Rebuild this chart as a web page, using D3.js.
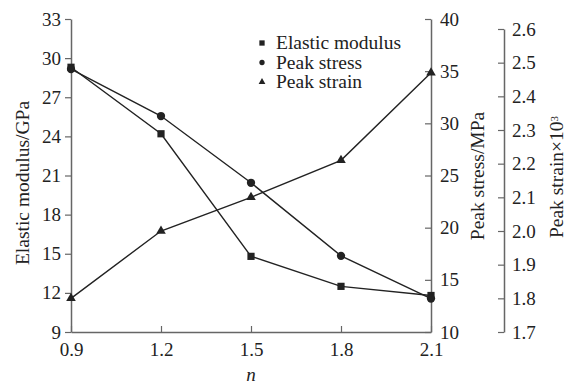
<!DOCTYPE html>
<html>
<head>
<meta charset="utf-8">
<script src="https://cdn.jsdelivr.net/npm/d3@7/dist/d3.min.js"></script>
<style>
  html, body { margin: 0; padding: 0; background: #fff; }
  svg { display: block; }
  text { font-family: "Liberation Serif", Tinos, "Noto Serif", "DejaVu Serif", "Times New Roman", Times, serif; fill: #222; }
</style>
</head>
<body>
<svg id="chart" width="569" height="385"></svg>
<script>
// n values and the three measured series
const nValues = [0.9, 1.2, 1.5, 1.8, 2.1];
const elasticModulus = [29.3, 24.2, 14.8, 12.5, 11.8];   // GPa
const peakStress = [35.2, 30.7, 24.3, 17.3, 13.2];       // MPa
const peakStrain = [1.80, 2.00, 2.10, 2.21, 2.47];       // ×10³

const xTicks = [0.9, 1.2, 1.5, 1.8, 2.1];
const modulusTicks = [9, 12, 15, 18, 21, 24, 27, 30, 33];
const stressTicks = [10, 15, 20, 25, 30, 35, 40];
const strainTicks = [1.7, 1.8, 1.9, 2.0, 2.1, 2.2, 2.3, 2.4, 2.5, 2.6];

const serif = '"Liberation Serif", Tinos, "Noto Serif", "DejaVu Serif", "Times New Roman", Times, serif';
const svg = d3.select("#chart");
const axisColor = "#666";
const lineColor = "#222";

const x = d3.scaleLinear().domain([0.9, 2.1]).range([71, 431]);
const yMod = d3.scaleLinear().domain([9, 33]).range([332, 19]);
const yStress = d3.scaleLinear().domain([10, 40]).range([332, 19]);
const yStrain = d3.scaleLinear().domain([1.7, 2.6]).range([332, 29]);

function styleAxis(g, size) {
  g.attr("font-family", serif).attr("font-size", size);
  g.select(".domain").attr("stroke", axisColor).attr("stroke-width", 1.5);
  g.selectAll(".tick line").attr("stroke", axisColor).attr("stroke-width", 1.2);
  g.selectAll(".tick text")
    .attr("fill", "#222")
    .style("font-family", serif)
    .style("font-size", size + "px");
}

// x axis, ticks pointing into the plot
svg.append("g")
  .attr("transform", "translate(0,332)")
  .call(d3.axisBottom(x).tickValues(xTicks).tickFormat(d3.format(".1f"))
    .tickSizeInner(-6).tickSizeOuter(0).tickPadding(11))
  .call(g => styleAxis(g, 19));

// left axis: elastic modulus
svg.append("g")
  .attr("transform", "translate(71,0)")
  .call(d3.axisLeft(yMod).tickValues(modulusTicks).tickFormat(d3.format("d"))
    .tickSizeInner(6).tickSizeOuter(0).tickPadding(4))
  .call(g => styleAxis(g, 19));

// first right axis: peak stress
svg.append("g")
  .attr("transform", "translate(431,0)")
  .call(d3.axisRight(yStress).tickValues(stressTicks).tickFormat(d3.format("d"))
    .tickSizeInner(-6).tickSizeOuter(0).tickPadding(9))
  .call(g => styleAxis(g, 19));

// second right axis: peak strain
svg.append("g")
  .attr("transform", "translate(504,0)")
  .call(d3.axisRight(yStrain).tickValues(strainTicks).tickFormat(d3.format(".1f"))
    .tickSizeInner(-6).tickSizeOuter(0).tickPadding(8))
  .call(g => styleAxis(g, 19));

// axis titles
svg.append("text")
  .attr("transform", "translate(29,183) rotate(-90)")
  .attr("text-anchor", "middle")
  .style("font-size", "19.5px")
  .text("Elastic modulus/GPa");

svg.append("text")
  .attr("transform", "translate(484,176) rotate(-90)")
  .attr("text-anchor", "middle")
  .style("font-size", "19.5px")
  .text("Peak stress/MPa");

const strainTitle = svg.append("text")
  .attr("transform", "translate(563,177) rotate(-90)")
  .attr("text-anchor", "middle")
  .style("font-size", "19.5px");
strainTitle.append("tspan").text("Peak strain×10");
strainTitle.append("tspan").attr("dy", "-0.45em").style("font-size", "11px").text("3");

svg.append("text")
  .attr("x", x(1.5))
  .attr("y", 381)
  .attr("text-anchor", "middle")
  .style("font-size", "19px")
  .style("font-style", "italic")
  .text("n");

// series lines and markers
const series = [
  { name: "Elastic modulus", values: elasticModulus, y: yMod, symbol: d3.symbolSquare, size: 52, legendSize: 28 },
  { name: "Peak stress", values: peakStress, y: yStress, symbol: d3.symbolCircle, size: 54, legendSize: 22 },
  { name: "Peak strain", values: peakStrain, y: yStrain, symbol: d3.symbolTriangle, size: 40, legendSize: 20 }
];

series.forEach(s => {
  const pts = nValues.map((n, i) => [x(n), s.y(s.values[i])]);
  svg.append("path")
    .attr("d", d3.line()(pts))
    .attr("fill", "none")
    .attr("stroke", lineColor)
    .attr("stroke-width", 1.4);
  svg.append("g").selectAll("path")
    .data(pts)
    .join("path")
    .attr("transform", d => `translate(${d[0]},${d[1]})`)
    .attr("d", d3.symbol().type(s.symbol).size(s.size))
    .attr("fill", lineColor);
});

// legend
const legend = svg.append("g").attr("transform", "translate(262,43)");
series.forEach((s, i) => {
  const row = legend.append("g").attr("transform", `translate(0,${i * 19.5})`);
  row.append("path")
    .attr("d", d3.symbol().type(s.symbol).size(s.legendSize))
    .attr("fill", lineColor);
  row.append("text")
    .attr("x", 14)
    .attr("y", 0)
    .attr("dy", "0.33em")
    .style("font-size", "19.5px")
    .text(s.name);
});
</script>
</body>
</html>
